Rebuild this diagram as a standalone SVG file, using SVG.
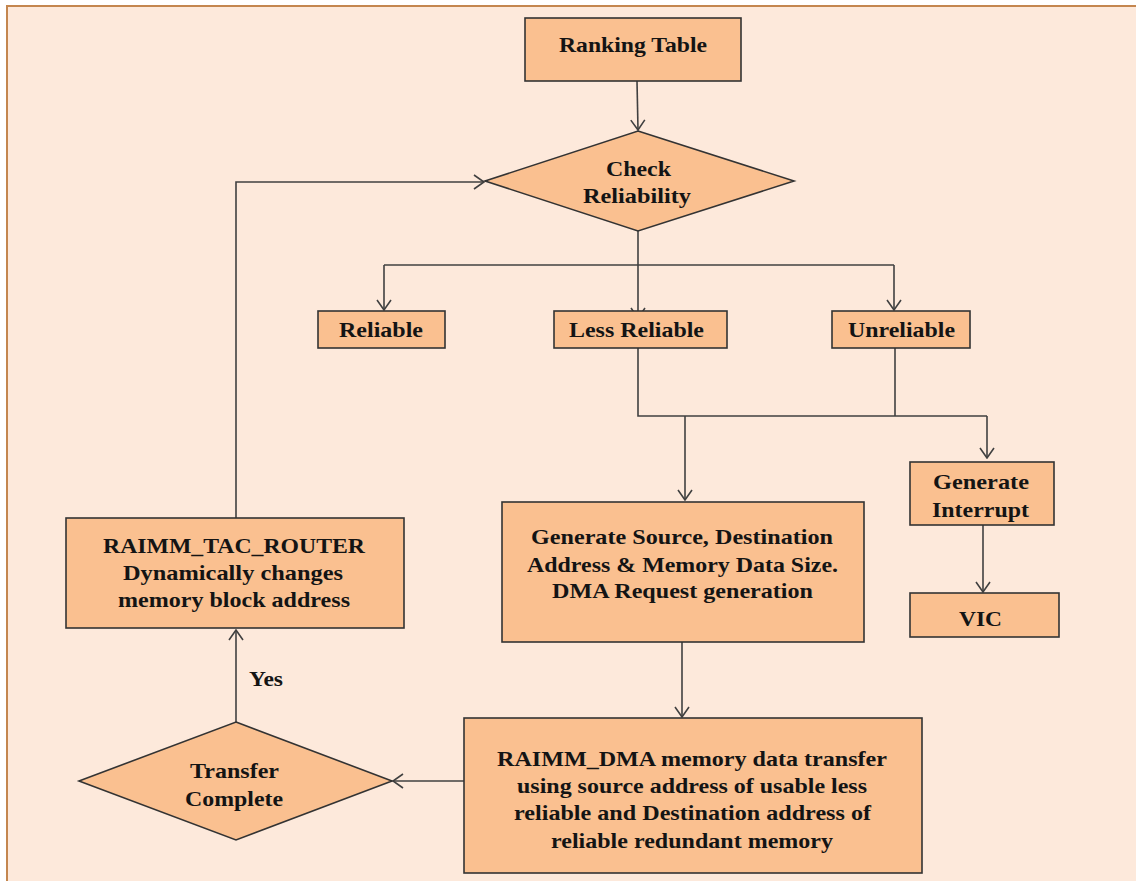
<svg xmlns="http://www.w3.org/2000/svg" width="1136" height="881" viewBox="0 0 1136 881">
  <style>
    .node { fill: #FAC090; stroke: #333333; stroke-width: 1.6; }
    .lbl { font-family: "Liberation Serif", "Times New Roman", serif; font-weight: bold; font-size: 21px; fill: #141414; }
    .wire { fill: none; stroke: #404040; stroke-width: 1.6; }
  </style>
  <defs>
    <marker id="open-arrow" viewBox="0 0 12 16" refX="11" refY="8" markerWidth="12" markerHeight="16" markerUnits="userSpaceOnUse" orient="auto">
      <path d="M1,1 L11,8 L1,15" fill="none" stroke="#404040" stroke-width="1.6"/>
    </marker>
  </defs>

  <!-- page -->
  <rect x="0" y="0" width="1136" height="881" fill="#FFFFFF"/>
  <rect x="7" y="6" width="1129" height="875" fill="#FDE9DB"/>
  <path d="M7,881 L7,6 L1136,6" fill="none" stroke="#C4864F" stroke-width="2"/>

  <!-- connectors -->
  <g id="connectors">
    <path class="wire" d="M637,81 L638,130" marker-end="url(#open-arrow)"/>
    <path class="wire" d="M638,231 L638,318" marker-end="url(#open-arrow)"/>
    <path class="wire" d="M384,265 L894,265"/>
    <path class="wire" d="M384,265 L384,310" marker-end="url(#open-arrow)"/>
    <path class="wire" d="M894,265 L894,310" marker-end="url(#open-arrow)"/>
    <path class="wire" d="M638,348 L638,416 L987,416"/>
    <path class="wire" d="M895,348 L895,416"/>
    <path class="wire" d="M685,416 L685,500" marker-end="url(#open-arrow)"/>
    <path class="wire" d="M987,416 L987,458" marker-end="url(#open-arrow)"/>
    <path class="wire" d="M983,525 L983,592" marker-end="url(#open-arrow)"/>
    <path class="wire" d="M682,642 L682,717" marker-end="url(#open-arrow)"/>
    <path class="wire" d="M464,781 L393,781" marker-end="url(#open-arrow)"/>
    <path class="wire" d="M236,722 L236,630" marker-end="url(#open-arrow)"/>
    <path class="wire" d="M236,518 L236,182 L484,182" marker-end="url(#open-arrow)"/>
    <text class="lbl" x="249" y="686" textLength="34" lengthAdjust="spacingAndGlyphs">Yes</text>
  </g>

  <g id="ranking-table">
    <rect class="node" x="525" y="18" width="216" height="63"/>
    <text class="lbl" x="559" y="52" textLength="148" lengthAdjust="spacingAndGlyphs">Ranking Table</text>
  </g>

  <g id="check-reliability">
    <polygon class="node" points="638,131 794,181 638,231 485,181"/>
    <text class="lbl" x="606" y="176" textLength="65" lengthAdjust="spacingAndGlyphs">Check</text>
    <text class="lbl" x="583" y="203" textLength="108" lengthAdjust="spacingAndGlyphs">Reliability</text>
  </g>

  <g id="reliable">
    <rect class="node" x="318" y="311" width="127" height="37"/>
    <text class="lbl" x="339" y="337" textLength="84" lengthAdjust="spacingAndGlyphs">Reliable</text>
  </g>

  <g id="less-reliable">
    <rect class="node" x="554" y="311" width="173" height="37"/>
    <text class="lbl" x="569" y="337" textLength="135" lengthAdjust="spacingAndGlyphs">Less Reliable</text>
  </g>

  <g id="unreliable">
    <rect class="node" x="832" y="311" width="138" height="37"/>
    <text class="lbl" x="848" y="337" textLength="107" lengthAdjust="spacingAndGlyphs">Unreliable</text>
  </g>

  <g id="generate-interrupt">
    <rect class="node" x="910" y="462" width="144" height="63"/>
    <text class="lbl" x="933" y="489" textLength="96" lengthAdjust="spacingAndGlyphs">Generate</text>
    <text class="lbl" x="932" y="517" textLength="97" lengthAdjust="spacingAndGlyphs">Interrupt</text>
  </g>

  <g id="vic">
    <rect class="node" x="910" y="593" width="149" height="44"/>
    <text class="lbl" x="959" y="626" textLength="43" lengthAdjust="spacingAndGlyphs">VIC</text>
  </g>

  <g id="dma-request">
    <rect class="node" x="502" y="502" width="362" height="140"/>
    <text class="lbl" x="531" y="544" textLength="302" lengthAdjust="spacingAndGlyphs">Generate Source, Destination</text>
    <text class="lbl" x="527" y="572" textLength="311" lengthAdjust="spacingAndGlyphs">Address &amp; Memory Data Size.</text>
    <text class="lbl" x="552" y="598" textLength="261" lengthAdjust="spacingAndGlyphs">DMA Request generation</text>
  </g>

  <g id="dma-transfer">
    <rect class="node" x="464" y="718" width="458" height="155"/>
    <text class="lbl" x="497" y="766" textLength="390" lengthAdjust="spacingAndGlyphs">RAIMM_DMA memory data transfer</text>
    <text class="lbl" x="517" y="793" textLength="350" lengthAdjust="spacingAndGlyphs">using source address of usable less</text>
    <text class="lbl" x="514" y="820" textLength="357" lengthAdjust="spacingAndGlyphs">reliable and Destination address of</text>
    <text class="lbl" x="551" y="848" textLength="282" lengthAdjust="spacingAndGlyphs">reliable redundant memory</text>
  </g>

  <g id="transfer-complete">
    <polygon class="node" points="236,722 392,781 236,840 79,781"/>
    <text class="lbl" x="190" y="778" textLength="89" lengthAdjust="spacingAndGlyphs">Transfer</text>
    <text class="lbl" x="185" y="806" textLength="98" lengthAdjust="spacingAndGlyphs">Complete</text>
  </g>

  <g id="tac-router">
    <rect class="node" x="66" y="518" width="338" height="110"/>
    <text class="lbl" x="103" y="553" textLength="262" lengthAdjust="spacingAndGlyphs">RAIMM_TAC_ROUTER</text>
    <text class="lbl" x="123" y="580" textLength="220" lengthAdjust="spacingAndGlyphs">Dynamically changes</text>
    <text class="lbl" x="118" y="607" textLength="232" lengthAdjust="spacingAndGlyphs">memory block address</text>
  </g>
</svg>
